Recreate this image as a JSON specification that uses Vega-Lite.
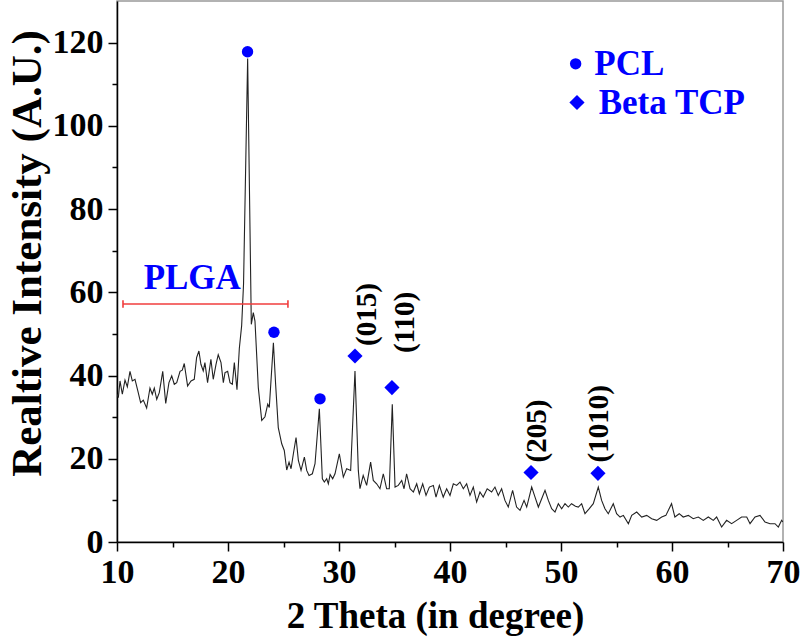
{
  "$schema": "https://vega.github.io/schema/vega-lite/v6.json",
  "width": 666,
  "height": 541,
  "autosize": {"type": "none"},
  "padding": {"left": 117, "top": 1, "right": 17, "bottom": 100},
  "background": "white",
  "config": {
    "view": {"stroke": "#999999", "strokeWidth": 1.5},
    "font": "Liberation Serif",
    "axis": {
      "grid": false,
      "domainColor": "black",
      "domainWidth": 1.5,
      "tickColor": "black",
      "tickWidth": 1.5,
      "labelFont": "Liberation Serif",
      "labelFontWeight": "bold",
      "labelFontSize": 34,
      "labelColor": "black",
      "titleFont": "Liberation Serif",
      "titleFontWeight": "bold",
      "titleColor": "black"
    }
  },
  "datasets": {
    "xrd": [
      {"t": 10.0, "i": 35.5}, {"t": 10.12, "i": 34.7}, {"t": 10.27, "i": 38.7}, {"t": 10.48, "i": 35.5},
      {"t": 10.72, "i": 38.9}, {"t": 10.93, "i": 37.3}, {"t": 11.17, "i": 41.0}, {"t": 11.38, "i": 38.7},
      {"t": 11.62, "i": 39.1}, {"t": 11.86, "i": 36.5}, {"t": 12.13, "i": 33.5}, {"t": 12.37, "i": 34.1},
      {"t": 12.67, "i": 32.2}, {"t": 12.97, "i": 37.0}, {"t": 13.18, "i": 35.5}, {"t": 13.36, "i": 37.0},
      {"t": 13.58, "i": 34.3}, {"t": 13.81, "i": 35.9}, {"t": 14.12, "i": 41.0}, {"t": 14.39, "i": 33.3},
      {"t": 14.68, "i": 38.3}, {"t": 14.93, "i": 39.9}, {"t": 15.16, "i": 37.9}, {"t": 15.38, "i": 38.3},
      {"t": 15.68, "i": 41.0}, {"t": 15.88, "i": 41.3}, {"t": 16.06, "i": 42.9}, {"t": 16.36, "i": 37.5},
      {"t": 16.67, "i": 38.7}, {"t": 16.96, "i": 39.1}, {"t": 17.17, "i": 44.3}, {"t": 17.38, "i": 45.9},
      {"t": 17.56, "i": 42.7}, {"t": 17.77, "i": 41.1}, {"t": 17.92, "i": 43.1}, {"t": 18.16, "i": 38.3},
      {"t": 18.46, "i": 43.9}, {"t": 18.67, "i": 39.1}, {"t": 18.92, "i": 42.7}, {"t": 19.12, "i": 45.0},
      {"t": 19.37, "i": 43.1}, {"t": 19.58, "i": 38.3}, {"t": 19.73, "i": 40.7}, {"t": 19.97, "i": 41.0},
      {"t": 20.18, "i": 38.3}, {"t": 20.39, "i": 37.9}, {"t": 20.57, "i": 43.1}, {"t": 20.81, "i": 36.6},
      {"t": 21.02, "i": 46.5}, {"t": 21.23, "i": 52.0}, {"t": 21.4, "i": 62.0}, {"t": 21.77, "i": 116.2},
      {"t": 22.1, "i": 52.3}, {"t": 22.28, "i": 55.1}, {"t": 22.43, "i": 53.1}, {"t": 22.73, "i": 37.1},
      {"t": 23.04, "i": 29.2}, {"t": 23.33, "i": 30.1}, {"t": 23.58, "i": 33.1}, {"t": 23.72, "i": 32.3},
      {"t": 24.09, "i": 47.9}, {"t": 24.29, "i": 37.9}, {"t": 24.53, "i": 27.5}, {"t": 24.84, "i": 23.6},
      {"t": 25.07, "i": 22.0}, {"t": 25.29, "i": 17.3}, {"t": 25.5, "i": 19.2}, {"t": 25.68, "i": 17.6},
      {"t": 25.89, "i": 21.2}, {"t": 26.13, "i": 25.1}, {"t": 26.34, "i": 19.6}, {"t": 26.58, "i": 17.2},
      {"t": 26.88, "i": 20.4}, {"t": 27.09, "i": 17.2}, {"t": 27.3, "i": 16.0}, {"t": 27.6, "i": 16.4},
      {"t": 27.84, "i": 18.8}, {"t": 28.23, "i": 32.0}, {"t": 28.5, "i": 15.2}, {"t": 28.68, "i": 14.4},
      {"t": 28.89, "i": 15.2}, {"t": 29.04, "i": 14.0}, {"t": 29.2, "i": 16.2}, {"t": 29.43, "i": 15.2},
      {"t": 29.64, "i": 16.4}, {"t": 30.03, "i": 21.2}, {"t": 30.39, "i": 15.6}, {"t": 30.69, "i": 17.6},
      {"t": 31.05, "i": 17.2}, {"t": 31.44, "i": 41.1}, {"t": 31.74, "i": 17.2}, {"t": 31.89, "i": 12.8},
      {"t": 32.18, "i": 16.0}, {"t": 32.49, "i": 13.6}, {"t": 32.85, "i": 19.2}, {"t": 33.09, "i": 14.8},
      {"t": 33.39, "i": 14.0}, {"t": 33.69, "i": 12.8}, {"t": 33.99, "i": 16.4}, {"t": 34.29, "i": 12.8},
      {"t": 34.53, "i": 12.8}, {"t": 34.8, "i": 33.1}, {"t": 35.05, "i": 13.2}, {"t": 35.34, "i": 13.6},
      {"t": 35.65, "i": 14.8}, {"t": 35.86, "i": 12.8}, {"t": 36.09, "i": 16.4}, {"t": 36.4, "i": 12.8},
      {"t": 36.7, "i": 12.0}, {"t": 37.0, "i": 14.0}, {"t": 37.24, "i": 11.6}, {"t": 37.54, "i": 14.0},
      {"t": 37.84, "i": 11.2}, {"t": 38.14, "i": 13.2}, {"t": 38.5, "i": 13.6}, {"t": 38.74, "i": 10.8},
      {"t": 39.04, "i": 13.6}, {"t": 39.39, "i": 10.8}, {"t": 39.7, "i": 12.8}, {"t": 40.0, "i": 11.2},
      {"t": 40.3, "i": 14.0}, {"t": 40.6, "i": 13.6}, {"t": 40.9, "i": 14.4}, {"t": 41.2, "i": 12.8},
      {"t": 41.5, "i": 14.0}, {"t": 41.8, "i": 11.2}, {"t": 42.1, "i": 13.2}, {"t": 42.4, "i": 9.6},
      {"t": 42.7, "i": 12.0}, {"t": 42.99, "i": 10.8}, {"t": 43.35, "i": 12.8}, {"t": 43.75, "i": 12.0},
      {"t": 44.05, "i": 13.2}, {"t": 44.35, "i": 11.2}, {"t": 44.65, "i": 12.8}, {"t": 44.95, "i": 10.0},
      {"t": 45.25, "i": 8.4}, {"t": 45.64, "i": 12.4}, {"t": 46.0, "i": 8.4}, {"t": 46.31, "i": 7.6},
      {"t": 46.67, "i": 10.0}, {"t": 46.91, "i": 8.4}, {"t": 47.36, "i": 13.2}, {"t": 47.66, "i": 10.8},
      {"t": 47.96, "i": 8.4}, {"t": 48.26, "i": 10.4}, {"t": 48.56, "i": 12.4}, {"t": 48.86, "i": 10.0},
      {"t": 49.16, "i": 8.0}, {"t": 49.46, "i": 7.2}, {"t": 49.76, "i": 9.2}, {"t": 50.06, "i": 8.0},
      {"t": 50.36, "i": 9.2}, {"t": 50.66, "i": 8.4}, {"t": 50.95, "i": 9.2}, {"t": 51.3, "i": 8.6},
      {"t": 51.56, "i": 8.4}, {"t": 51.86, "i": 9.2}, {"t": 52.16, "i": 6.8}, {"t": 52.55, "i": 8.0},
      {"t": 52.91, "i": 9.2}, {"t": 53.36, "i": 13.2}, {"t": 53.66, "i": 10.0}, {"t": 53.96, "i": 8.0},
      {"t": 54.26, "i": 6.8}, {"t": 54.71, "i": 9.2}, {"t": 55.01, "i": 6.8}, {"t": 55.32, "i": 6.0},
      {"t": 55.62, "i": 6.4}, {"t": 56.07, "i": 4.4}, {"t": 56.37, "i": 6.4}, {"t": 56.82, "i": 7.2},
      {"t": 57.27, "i": 6.0}, {"t": 57.72, "i": 6.4}, {"t": 58.17, "i": 5.6}, {"t": 58.62, "i": 5.2},
      {"t": 59.07, "i": 6.0}, {"t": 59.45, "i": 6.4}, {"t": 59.96, "i": 9.2}, {"t": 60.26, "i": 6.0},
      {"t": 60.65, "i": 6.8}, {"t": 61.01, "i": 6.0}, {"t": 61.47, "i": 6.4}, {"t": 61.91, "i": 5.6},
      {"t": 62.37, "i": 6.0}, {"t": 62.82, "i": 5.2}, {"t": 63.27, "i": 6.0}, {"t": 63.72, "i": 5.2},
      {"t": 64.02, "i": 6.0}, {"t": 64.47, "i": 3.6}, {"t": 64.92, "i": 5.2}, {"t": 65.37, "i": 4.4},
      {"t": 65.82, "i": 5.2}, {"t": 66.27, "i": 6.0}, {"t": 66.73, "i": 6.0}, {"t": 67.03, "i": 4.4},
      {"t": 67.48, "i": 6.0}, {"t": 67.93, "i": 6.4}, {"t": 68.38, "i": 4.8}, {"t": 68.83, "i": 4.4},
      {"t": 69.28, "i": 4.4}, {"t": 69.58, "i": 3.6}, {"t": 69.88, "i": 5.2}, {"t": 70.0, "i": 4.8}
    ],
    "markers": [
      {"t": 21.76, "i": 117.8, "phase": "PCL"},
      {"t": 24.14, "i": 50.4, "phase": "PCL"},
      {"t": 28.29, "i": 34.4, "phase": "PCL"},
      {"t": 31.44, "i": 44.7, "phase": "Beta TCP"},
      {"t": 34.77, "i": 37.1, "phase": "Beta TCP"},
      {"t": 47.3, "i": 16.7, "phase": "Beta TCP"},
      {"t": 53.33, "i": 16.5, "phase": "Beta TCP"},
      {"t": 51.32, "i": 114.9, "phase": "PCL"},
      {"t": 51.44, "i": 105.6, "phase": "Beta TCP"}
    ],
    "indices": [
      {"t": 32.52, "i": 47.1, "label": "(015)"},
      {"t": 35.95, "i": 45.4, "label": "(110)"},
      {"t": 47.84, "i": 19.1, "label": "(205)"},
      {"t": 53.42, "i": 19.1, "label": "(1010)"}
    ],
    "bluetext": [
      {"t": 12.4, "i": 63.5, "label": "PLGA"},
      {"t": 53.0, "i": 114.9, "label": "PCL"},
      {"t": 53.4, "i": 105.4, "label": "Beta TCP"}
    ],
    "range": [
      {"a": 10.54, "b": 25.4, "i": 57.2}
    ],
    "caps": [
      {"t": 10.54, "lo": 56.3, "hi": 58.1},
      {"t": 25.4, "lo": 56.3, "hi": 58.1}
    ]
  },
  "layer": [
    {
      "data": {"name": "xrd"},
      "mark": {"type": "line", "color": "#222222", "strokeWidth": 1.1, "clip": true},
      "encoding": {
        "x": {
          "field": "t", "type": "quantitative",
          "scale": {"domain": [10, 70], "nice": false, "zero": false},
          "axis": {
            "title": "2 Theta (in degree)",
            "titleFontSize": 37,
            "titleX": 318,
            "values": [10, 15, 20, 25, 30, 35, 40, 45, 50, 55, 60, 65, 70],
            "labelExpr": "datum.value % 10 === 0 ? datum.label : ''",
            "tickSize": {"condition": {"test": "datum.value % 10 === 0", "value": 9}, "value": 5},
            "labelPadding": 4,
            "labelFlush": false,
            "labelOverlap": false,
            "titlePadding": 9
          }
        },
        "y": {
          "field": "i", "type": "quantitative",
          "scale": {"domain": [0, 130], "nice": false},
          "axis": {
            "title": "Realtive Intensity (A.U.)",
            "titleFontSize": 43,
            "titleY": 252,
            "values": [0, 10, 20, 30, 40, 50, 60, 70, 80, 90, 100, 110, 120],
            "labelExpr": "datum.value % 20 === 0 ? datum.label : ''",
            "tickSize": {"condition": {"test": "datum.value % 20 === 0", "value": 9}, "value": 5},
            "labelPadding": 5,
            "labelOverlap": false,
            "titlePadding": 3
          }
        }
      }
    },
    {
      "data": {"name": "range"},
      "mark": {"type": "rule", "color": "#f03c3c", "strokeWidth": 1.6},
      "encoding": {
        "x": {"field": "a", "type": "quantitative"},
        "x2": {"field": "b"},
        "y": {"field": "i", "type": "quantitative"}
      }
    },
    {
      "data": {"name": "caps"},
      "mark": {"type": "rule", "color": "#f03c3c", "strokeWidth": 1.6},
      "encoding": {
        "x": {"field": "t", "type": "quantitative"},
        "y": {"field": "lo", "type": "quantitative"},
        "y2": {"field": "hi"}
      }
    },
    {
      "data": {"name": "markers"},
      "mark": {"type": "point", "filled": true, "color": "#0000ff", "opacity": 1, "size": 140},
      "encoding": {
        "x": {"field": "t", "type": "quantitative"},
        "y": {"field": "i", "type": "quantitative"},
        "shape": {
          "field": "phase", "type": "nominal",
          "scale": {"domain": ["PCL", "Beta TCP"], "range": ["circle", "diamond"]},
          "legend": null
        },
        "size": {
          "field": "phase", "type": "nominal",
          "scale": {"domain": ["PCL", "Beta TCP"], "range": [130, 230]},
          "legend": null
        }
      }
    },
    {
      "data": {"name": "indices"},
      "mark": {"type": "text", "angle": 270, "align": "left", "baseline": "middle", "font": "Liberation Serif", "fontWeight": "bold", "fontSize": 29, "color": "black"},
      "encoding": {
        "x": {"field": "t", "type": "quantitative"},
        "y": {"field": "i", "type": "quantitative"},
        "text": {"field": "label"}
      }
    },
    {
      "data": {"name": "bluetext"},
      "mark": {"type": "text", "align": "left", "baseline": "middle", "font": "Liberation Serif", "fontWeight": "bold", "fontSize": 35, "color": "#0000ff"},
      "encoding": {
        "x": {"field": "t", "type": "quantitative"},
        "y": {"field": "i", "type": "quantitative"},
        "text": {"field": "label"}
      }
    }
  ]
}
